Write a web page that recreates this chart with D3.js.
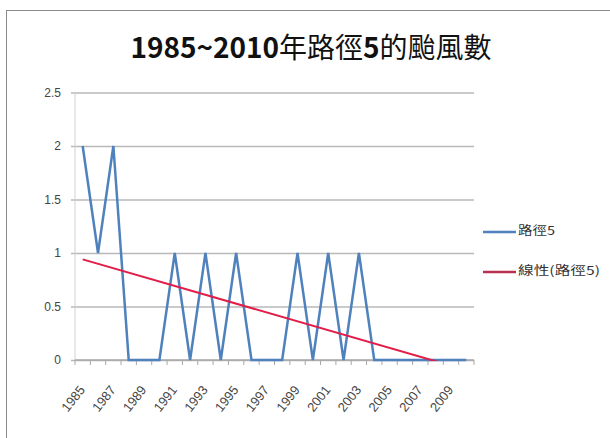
<!DOCTYPE html>
<html>
<head>
<meta charset="utf-8">
<script src="https://cdn.jsdelivr.net/npm/d3@7"></script>
<style>
  html, body { margin: 0; padding: 0; background: #fff; }
  svg { display: block; }
</style>
</head>
<body>
<svg id="chart" width="610" height="438"></svg>
<script>
// Typhoon counts on track 5, 1985–2010
const years = d3.range(1985, 2011);
const counts = [2, 1, 2, 0, 0, 0, 1, 0, 1, 0, 1, 0, 0, 0, 1, 0, 1, 0, 1, 0, 0, 0, 0, 0, 0, 0];
const yTicks = [0, 0.5, 1, 1.5, 2, 2.5];
const xLabelYears = d3.range(1985, 2010, 2);
const seriesName = "路徑5";
const trendName = "線性(路徑5)";

const svg = d3.select("#chart");
const W = 610, H = 438;
const plotL = 75, plotR = 474, plotT = 92.5, plotB = 360;

// outer chart frame
svg.append("rect")
  .attr("x", 6.5).attr("y", 10.5)
  .attr("width", W + 10).attr("height", H + 10)
  .attr("fill", "#fff").attr("stroke", "#8a8a8a").attr("stroke-width", 1);

const x = d3.scaleBand().domain(years).range([plotL, plotR]);
const cx = d => x(d) + x.bandwidth() / 2;
const y = d3.scaleLinear().domain([0, 2.5]).range([plotB, plotT]);

// horizontal gridlines + y labels
const yAxis = svg.append("g")
  .attr("transform", `translate(${plotL},0)`)
  .call(d3.axisLeft(y).tickValues(yTicks).tickSize(-(plotR - plotL)).tickPadding(14).tickFormat(d => String(d)));
yAxis.select(".domain").remove();
yAxis.selectAll(".tick line")
  .attr("x1", -4)
  .attr("stroke", "#b9b9b9").attr("stroke-width", 1.5);
yAxis.selectAll(".tick text")
  .attr("fill", "#444").attr("font-size", 12)
  .attr("font-family", "Liberation Sans, sans-serif");

// vertical axis line
svg.append("line")
  .attr("x1", plotL).attr("x2", plotL).attr("y1", plotT).attr("y2", plotB)
  .attr("stroke", "#d0d0d0").attr("stroke-width", 1);

// category axis: line, boundary ticks, rotated labels
svg.append("line")
  .attr("x1", plotL).attr("x2", plotR).attr("y1", plotB).attr("y2", plotB)
  .attr("stroke", "#a8a8a8").attr("stroke-width", 1.5);
const bounds = years.map(d => x(d)).concat([plotR]);
svg.append("g").selectAll("line").data(bounds).join("line")
  .attr("x1", d => d).attr("x2", d => d)
  .attr("y1", plotB).attr("y2", plotB + 5)
  .attr("stroke", "#a8a8a8").attr("stroke-width", 1);

const xAxis = svg.append("g")
  .attr("transform", `translate(0,${plotB})`)
  .call(d3.axisBottom(x).tickValues(xLabelYears).tickSize(0).tickFormat(d => String(d)));
xAxis.select(".domain").remove();
xAxis.selectAll(".tick text")
  .attr("text-anchor", "end")
  .attr("dy", 0)
  .attr("y", 0)
  .attr("transform", "translate(3,30) rotate(-52)")
  .attr("fill", "#444").attr("font-size", 13)
  .attr("font-family", "Liberation Sans, sans-serif");

// data line
const line = d3.line().x((d, i) => cx(years[i])).y(d => y(d));
svg.append("path")
  .datum(counts)
  .attr("d", line)
  .attr("fill", "none")
  .attr("stroke", "#4f81bd").attr("stroke-width", 2.5)
  .attr("stroke-linejoin", "miter");

// least-squares linear trend over the category index, clipped to the plot
const idx = counts.map((_, i) => i);
const mx = d3.mean(idx), my = d3.mean(counts);
const sxy = d3.sum(idx, i => (i - mx) * (counts[i] - my));
const sxx = d3.sum(idx, i => (i - mx) * (i - mx));
const slope = sxy / sxx, intercept = my - slope * mx;
const trendEnds = [
  { year: years[0], v: intercept },
  { year: years[years.length - 1], v: intercept + slope * (years.length - 1) }
];

svg.append("clipPath").attr("id", "plotClip")
  .append("rect").attr("x", plotL).attr("y", plotT - 5)
  .attr("width", plotR - plotL).attr("height", plotB - plotT + 6);

svg.append("path")
  .datum(trendEnds)
  .attr("clip-path", "url(#plotClip)")
  .attr("d", d3.line().x(d => cx(d.year)).y(d => y(d.v)))
  .attr("fill", "none")
  .attr("stroke", "#e21d48").attr("stroke-width", 2);

// title
const title = svg.append("text")
  .attr("x", 311).attr("y", 58)
  .attr("text-anchor", "middle")
  .attr("font-family", "Noto Sans CJK TC, sans-serif")
  .attr("font-size", 28)
  .attr("fill", "#111");
title.append("tspan").attr("font-weight", "bold").text("1985~2010");
title.append("tspan").attr("font-weight", "normal").text("年路徑");
title.append("tspan").attr("font-weight", "bold").text("5");
title.append("tspan").attr("font-weight", "normal").text("的颱風數");

// legend
const legend = [
  { name: seriesName, color: "#4f81bd", ly: 232, len: 37 },
  { name: trendName, color: "#b8314f", ly: 272, len: 82 }
];
const lg = svg.append("g").selectAll("g").data(legend).join("g")
  .attr("transform", d => `translate(483,${d.ly})`);
lg.append("line").attr("x1", 0).attr("x2", 33).attr("y1", 0).attr("y2", 0)
  .attr("stroke", d => d.color).attr("stroke-width", 2.5);
lg.append("text").attr("x", 35).attr("y", -1).attr("dy", "0.35em")
  .attr("font-family", "Noto Sans CJK TC, sans-serif")
  .attr("font-size", 12).attr("fill", "#333")
  .attr("textLength", d => d.len).attr("lengthAdjust", "spacingAndGlyphs")
  .text(d => d.name);
</script>
</body>
</html>
